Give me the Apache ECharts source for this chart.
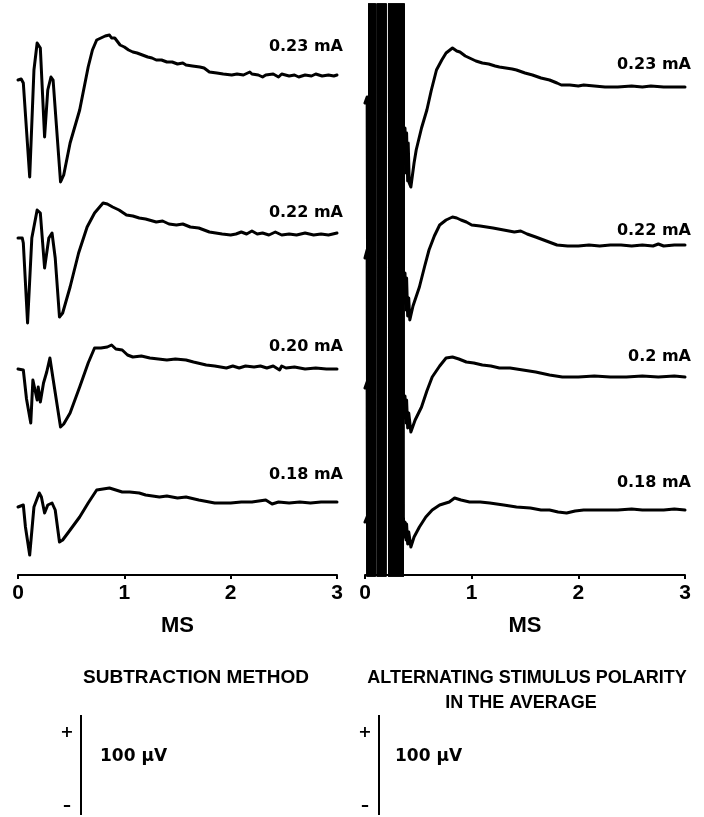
<!DOCTYPE html>
<html>
<head>
<meta charset="utf-8">
<script src="https://cdn.jsdelivr.net/npm/echarts@6/dist/echarts.min.js"></script>
<style>
html,body{margin:0;padding:0;background:#fff;}
#chart{width:704px;height:817px;}
</style>
</head>
<body>
<div id="chart"></div>
<script>
// ---------------- DATA ----------------
// time in ms, amplitude in µV relative to the trace's own baseline
const xTicks = [0, 1, 2, 3];
const xName = 'MS';
const leftTitle = 'SUBTRACTION METHOD';
const rightTitle1 = 'ALTERNATING STIMULUS POLARITY';
const rightTitle2 = 'IN THE AVERAGE';
const scaleBarUV = 100;
const scaleBarText = '100 \u00b5V';

const leftLabels = ['0.23 mA', '0.22 mA', '0.20 mA', '0.18 mA'];
const rightLabels = ['0.23 mA', '0.22 mA', '0.2 mA', '0.18 mA'];

// vertical separation of the stacked traces (µV)
const leftOffsets = [495, 337, 206, 68];
const rightOffsets = [472, 317, 187, 53];

const left023 = [[0,0],[0.03,1],[0.05,-3],[0.11,-97],[0.15,10],[0.18,37],[0.21,32],[0.25,-57],[0.28,-10],[0.31,3],[0.33,0],[0.40,-102],[0.43,-95],[0.49,-63],[0.58,-30],[0.66,13],[0.70,30],[0.74,40],[0.78,42],[0.82,44],[0.86,45],[0.88,42],[0.91,42],[0.96,35],[1.00,33],[1.04,30],[1.08,28],[1.12,27],[1.17,25],[1.22,23],[1.26,22],[1.30,20],[1.35,20],[1.40,18],[1.45,18],[1.50,16],[1.55,17],[1.58,15],[1.64,14],[1.71,13],[1.75,12],[1.80,8],[1.87,7],[1.93,6],[2.01,5],[2.06,6],[2.12,5],[2.18,8],[2.20,6],[2.26,5],[2.30,3],[2.33,5],[2.40,6],[2.45,3],[2.48,6],[2.55,4],[2.60,5],[2.64,3],[2.70,5],[2.76,4],[2.80,6],[2.86,4],[2.92,5],[2.97,4],[3.00,5]];
const left022 = [[0,0],[0.04,0],[0.05,-5],[0.09,-85],[0.13,0],[0.18,28],[0.21,25],[0.25,-30],[0.29,0],[0.32,5],[0.35,-20],[0.39,-79],[0.42,-75],[0.49,-49],[0.57,-15],[0.65,11],[0.72,25],[0.80,35],[0.84,34],[0.89,31],[0.95,28],[1.02,23],[1.08,22],[1.14,20],[1.20,19],[1.30,16],[1.36,17],[1.42,14],[1.49,13],[1.55,14],[1.62,11],[1.70,10],[1.75,8],[1.80,6],[1.86,5],[1.92,4],[2.00,3],[2.05,4],[2.10,6],[2.15,4],[2.20,7],[2.25,4],[2.30,5],[2.36,3],[2.42,6],[2.48,3],[2.55,4],[2.62,3],[2.70,5],[2.78,3],[2.85,4],[2.92,3],[3.00,5]];
const left020 = [[0,0],[0.05,-1],[0.08,-30],[0.12,-54],[0.14,-11],[0.18,-31],[0.19,-18],[0.21,-33],[0.24,-14],[0.27,-3],[0.30,11],[0.33,-10],[0.40,-58],[0.43,-55],[0.49,-44],[0.58,-18],[0.66,6],[0.72,21],[0.78,21],[0.84,22],[0.88,24],[0.92,20],[0.98,19],[1.03,14],[1.08,12],[1.16,13],[1.24,11],[1.32,10],[1.40,9],[1.48,10],[1.58,9],[1.65,7],[1.77,4],[1.85,3],[1.96,1],[2.02,3],[2.08,1],[2.14,3],[2.22,2],[2.28,3],[2.34,1],[2.40,3],[2.46,-1],[2.48,3],[2.52,1],[2.60,2],[2.70,0],[2.80,1],[2.90,0],[3.00,0]];
const left018 = [[0,0],[0.05,2],[0.07,-20],[0.11,-48],[0.15,0],[0.20,14],[0.22,10],[0.25,-6],[0.28,2],[0.32,4],[0.35,-3],[0.39,-35],[0.42,-33],[0.49,-23],[0.58,-10],[0.66,4],[0.74,17],[0.80,18],[0.86,19],[0.92,17],[0.98,15],[1.05,15],[1.14,14],[1.20,12],[1.33,10],[1.40,11],[1.50,9],[1.58,10],[1.70,7],[1.85,4],[2.00,4],[2.10,5],[2.20,5],[2.33,7],[2.39,3],[2.45,5],[2.55,4],[2.65,5],[2.75,4],[2.85,5],[3.00,5]];

// stimulus artifact shared by the alternating-polarity traces (goes off scale)
const stimArtifact = [[0.040,-900],[0.045,900],[0.051,-900],[0.057,900],[0.063,-900],[0.069,900],[0.075,-900],[0.081,900],[0.086,-900],[0.088,900],[0.121,900],[0.125,-900],[0.131,900],[0.137,-900],[0.143,900],[0.149,-900],[0.155,900],[0.161,-900],[0.167,900],[0.173,-900],[0.179,900],[0.185,-900],[0.190,900],[0.228,900],[0.232,-900],[0.238,900],[0.244,-900],[0.250,900],[0.256,-900],[0.262,900],[0.268,-900],[0.274,900],[0.280,-900],[0.286,900],[0.292,-900],[0.298,900],[0.304,-900],[0.310,900],[0.316,-900],[0.322,900],[0.328,-900],[0.334,900],[0.340,-900],[0.346,900],[0.350,-900],[0.354,900]];

const right023Pre = [[0,0],[0.02,6],[0.035,8]];
const right022Pre = [[0,0],[0.02,8],[0.035,10]];
const right020Pre = [[0,0],[0.02,6],[0.035,8]];
const right018Pre = [[0,0],[0.035,9]];

const right023Post = [[0.36,-20],[0.37,-60],[0.375,-25],[0.385,-70],[0.39,-30],[0.40,-78],[0.405,-40],[0.415,-80],[0.43,-84],[0.46,-60],[0.48,-47],[0.53,-25],[0.58,-7],[0.62,12],[0.67,33],[0.72,43],[0.76,50],[0.82,55],[0.86,52],[0.89,51],[0.94,47],[0.98,45],[1.04,42],[1.10,40],[1.16,39],[1.22,37],[1.26,36],[1.32,35],[1.38,34],[1.42,33],[1.50,30],[1.57,28],[1.65,25],[1.73,23],[1.80,20],[1.84,18],[1.92,18],[2.00,17],[2.05,18],[2.15,17],[2.25,16],[2.37,16],[2.50,17],[2.60,16],[2.68,17],[2.80,16],[2.90,16],[3.00,16]];
const right022Post = [[0.36,-10],[0.37,-45],[0.375,-15],[0.385,-52],[0.39,-20],[0.40,-58],[0.41,-40],[0.42,-62],[0.45,-48],[0.51,-29],[0.56,-8],[0.60,8],[0.65,22],[0.70,33],[0.76,38],[0.82,41],[0.86,40],[0.90,38],[0.95,36],[1.00,33],[1.08,32],[1.14,31],[1.20,30],[1.30,28],[1.40,26],[1.46,27],[1.52,24],[1.60,21],[1.70,17],[1.80,13],[1.90,12],[2.00,12],[2.10,13],[2.20,12],[2.30,13],[2.40,13],[2.50,12],[2.60,13],[2.70,12],[2.75,14],[2.80,12],[2.90,13],[3.00,13]];
const right020Post = [[0.36,-5],[0.37,-30],[0.375,-8],[0.385,-35],[0.39,-12],[0.40,-40],[0.41,-25],[0.43,-44],[0.47,-32],[0.53,-19],[0.58,-3],[0.63,11],[0.70,22],[0.76,30],[0.82,31],[0.88,29],[0.95,26],[1.02,25],[1.10,23],[1.18,22],[1.26,20],[1.36,20],[1.48,18],[1.60,16],[1.73,13],[1.85,11],[2.00,11],[2.15,12],[2.30,11],[2.45,11],[2.60,12],[2.75,11],[2.90,12],[3.00,11]];
const right018Post = [[0.36,5],[0.37,-15],[0.375,0],[0.385,-18],[0.39,-2],[0.40,-22],[0.41,-10],[0.43,-25],[0.46,-15],[0.51,-5],[0.57,5],[0.63,12],[0.70,17],[0.79,20],[0.84,24],[0.90,22],[0.98,20],[1.08,20],[1.17,19],[1.30,17],[1.42,15],[1.55,14],[1.65,12],[1.73,12],[1.81,10],[1.89,9],[1.97,11],[2.05,12],[2.20,12],[2.37,12],[2.50,13],[2.60,12],[2.68,12],[2.80,12],[2.90,13],[3.00,12]];

// ---------------- LAYOUT / STYLE ----------------
const leftTraces = [left023, left022, left020, left018];
const rightTraces = [
  right023Pre.concat(stimArtifact, right023Post),
  right022Pre.concat(stimArtifact, right022Post),
  right020Pre.concat(stimArtifact, right020Post),
  right018Pre.concat(stimArtifact, right018Post)
];
const leftLabelLift = [28, 20, 22, 27];
const rightLabelLift = [22, 14, 20, 27];

const INK = '#000';
const labelFont = {color: INK, fontFamily: 'DejaVu Sans', fontWeight: 'bold', fontSize: 16};

function makeSeries(traces, offsets, labels, lifts, gridIdx) {
  return traces.map((tr, i) => {
    const data = tr.map(p => [p[0], p[1] + offsets[i]]);
    const last = data[data.length - 1];
    return {
      type: 'line',
      xAxisIndex: gridIdx,
      yAxisIndex: gridIdx,
      data: data,
      showSymbol: false,
      symbol: 'none',
      clip: true,
      animation: false,
      lineStyle: {color: INK, width: 3, join: 'round', cap: 'round'},
      markPoint: {
        symbol: 'circle',
        symbolSize: 0,
        silent: true,
        animation: false,
        data: [{
          coord: last,
          label: Object.assign({show: true, formatter: labels[i], position: 'left', distance: 0, offset: [6, -lifts[i]]}, labelFont)
        }]
      }
    };
  });
}

function xAxis(gridIdx) {
  return {
    type: 'value', gridIndex: gridIdx, min: xTicks[0], max: xTicks[xTicks.length - 1], interval: 1,
    name: xName, nameLocation: 'middle', nameGap: 40,
    nameTextStyle: {color: INK, fontFamily: 'Liberation Sans', fontWeight: 'bold', fontSize: 22},
    axisLine: {show: true, onZero: false, lineStyle: {color: INK, width: 2}},
    axisTick: {show: true, length: 4, lineStyle: {color: INK, width: 2}},
    axisLabel: {color: INK, fontFamily: 'Liberation Sans', fontWeight: 'bold', fontSize: 21, margin: 8},
    splitLine: {show: false}
  };
}
function yAxis(gridIdx) {
  return {type: 'value', gridIndex: gridIdx, min: 0, max: 570, show: false};
}

const chart = echarts.init(document.getElementById('chart'), null, {renderer: 'canvas'});
chart.setOption({
  backgroundColor: '#fff',
  animation: false,
  grid: [
    {left: 18, width: 319, top: 5, height: 570},
    {left: 365, width: 320, top: 5, height: 570}
  ],
  xAxis: [xAxis(0), xAxis(1)],
  yAxis: [yAxis(0), yAxis(1)],
  series: makeSeries(leftTraces, leftOffsets, leftLabels, leftLabelLift, 0)
    .concat(makeSeries(rightTraces, rightOffsets, rightLabels, rightLabelLift, 1))
});

// scale bars drawn from the y scale
const p0 = chart.convertToPixel({gridIndex: 0}, [0, 0]);
const p1 = chart.convertToPixel({gridIndex: 0}, [0, scaleBarUV]);
const barLen = p0[1] - p1[1];
const barTop = 715;
const capFont = 'bold 19px "Liberation Sans"';
const smallFont = 'bold 17px "DejaVu Sans"';

function scaleBar(x, textX) {
  return [
    {type: 'line', silent: true, shape: {x1: x, y1: barTop, x2: x, y2: barTop + barLen}, style: {stroke: INK, lineWidth: 2}},
    {type: 'text', silent: true, style: {text: '+', x: x - 14, y: barTop + 18, fill: INK, font: 'bold 16px "DejaVu Sans"', align: 'center', verticalAlign: 'middle'}},
    {type: 'text', silent: true, style: {text: '\u2013', x: x - 14, y: barTop + barLen - 9, fill: INK, font: 'bold 16px "DejaVu Sans"', align: 'center', verticalAlign: 'middle'}},
    {type: 'text', silent: true, style: {text: scaleBarText, x: textX, y: barTop + 42, fill: INK, font: smallFont, align: 'left', verticalAlign: 'middle'}}
  ];
}

chart.setOption({
  graphic: [
    {type: 'text', silent: true, style: {text: leftTitle, x: 196, y: 678, fill: INK, font: capFont, align: 'center', verticalAlign: 'middle'}},
    {type: 'text', silent: true, style: {text: rightTitle1, x: 527, y: 678, fill: INK, font: 'bold 18px "Liberation Sans"', align: 'center', verticalAlign: 'middle'}},
    {type: 'text', silent: true, style: {text: rightTitle2, x: 521, y: 703, fill: INK, font: 'bold 18px "Liberation Sans"', align: 'center', verticalAlign: 'middle'}}
  ].concat(scaleBar(81, 100), scaleBar(379, 395))
});
</script>
</body>
</html>
